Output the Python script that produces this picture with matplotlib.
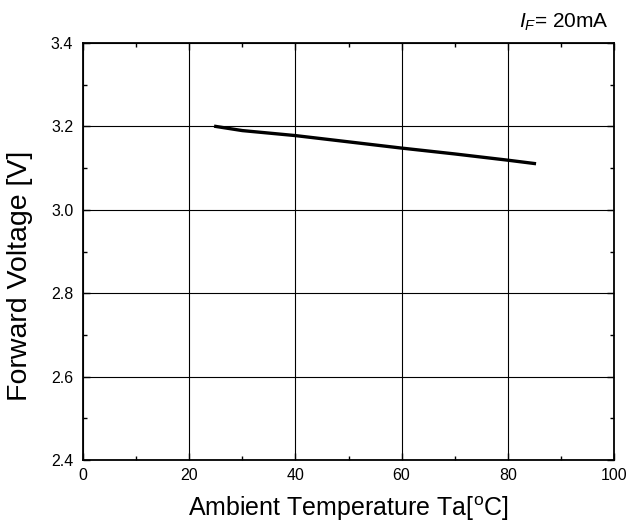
import numpy as np
import matplotlib.pyplot as plt
from matplotlib.ticker import MultipleLocator

plt.rcParams['font.family'] = ['Liberation Sans', 'DejaVu Sans']
plt.rcParams['mathtext.fontset'] = 'custom'
plt.rcParams['mathtext.rm'] = 'Liberation Sans'
plt.rcParams['mathtext.it'] = 'Liberation Sans:italic'

# forward voltage vs ambient temperature, IF = 20mA
temperature = [25, 30, 40, 50, 60, 70, 80, 85]
forward_voltage = [3.200, 3.190, 3.178, 3.163, 3.148, 3.134, 3.119, 3.111]

x_ticks = [0, 20, 40, 60, 80, 100]
y_ticks = [2.4, 2.6, 2.8, 3.0, 3.2, 3.4]

fig = plt.figure(figsize=(6.43, 5.31), dpi=100)
ax = fig.add_axes([0.129, 0.1337, 0.826, 0.7853])

ax.plot(temperature, forward_voltage, color='black', linewidth=2.4)

ax.set_xlim(0, 100)
ax.set_ylim(2.4, 3.4)
ax.set_xticks(x_ticks)
ax.set_yticks(y_ticks)
ax.set_yticklabels([f'{v:.1f}' for v in y_ticks])
ax.xaxis.set_minor_locator(MultipleLocator(10))
ax.yaxis.set_minor_locator(MultipleLocator(0.1))
ax.tick_params(which='both', direction='in', top=True, right=True, labelsize=11.5, colors='black')
ax.tick_params(which='major', length=5, width=1)
ax.tick_params(which='minor', length=3, width=1)
ax.tick_params(axis='x', pad=6)
ax.tick_params(axis='y', pad=7)
ax.grid(True, color='black', linewidth=0.8)
for s in ax.spines.values():
    s.set_linewidth(1.3)

ax.set_xlabel('Ambient Temperature Ta[$^\\mathregular{o}$C]', fontsize=18, labelpad=8)
ax.set_ylabel('Forward Voltage [V]', fontsize=20.5)
ax.yaxis.set_label_coords(-0.094, 0.441)

fig.text(0.946, 0.958, '$I_F$= 20mA', fontsize=15, ha='right', va='center')

fig.savefig('out.png', dpi=100)
